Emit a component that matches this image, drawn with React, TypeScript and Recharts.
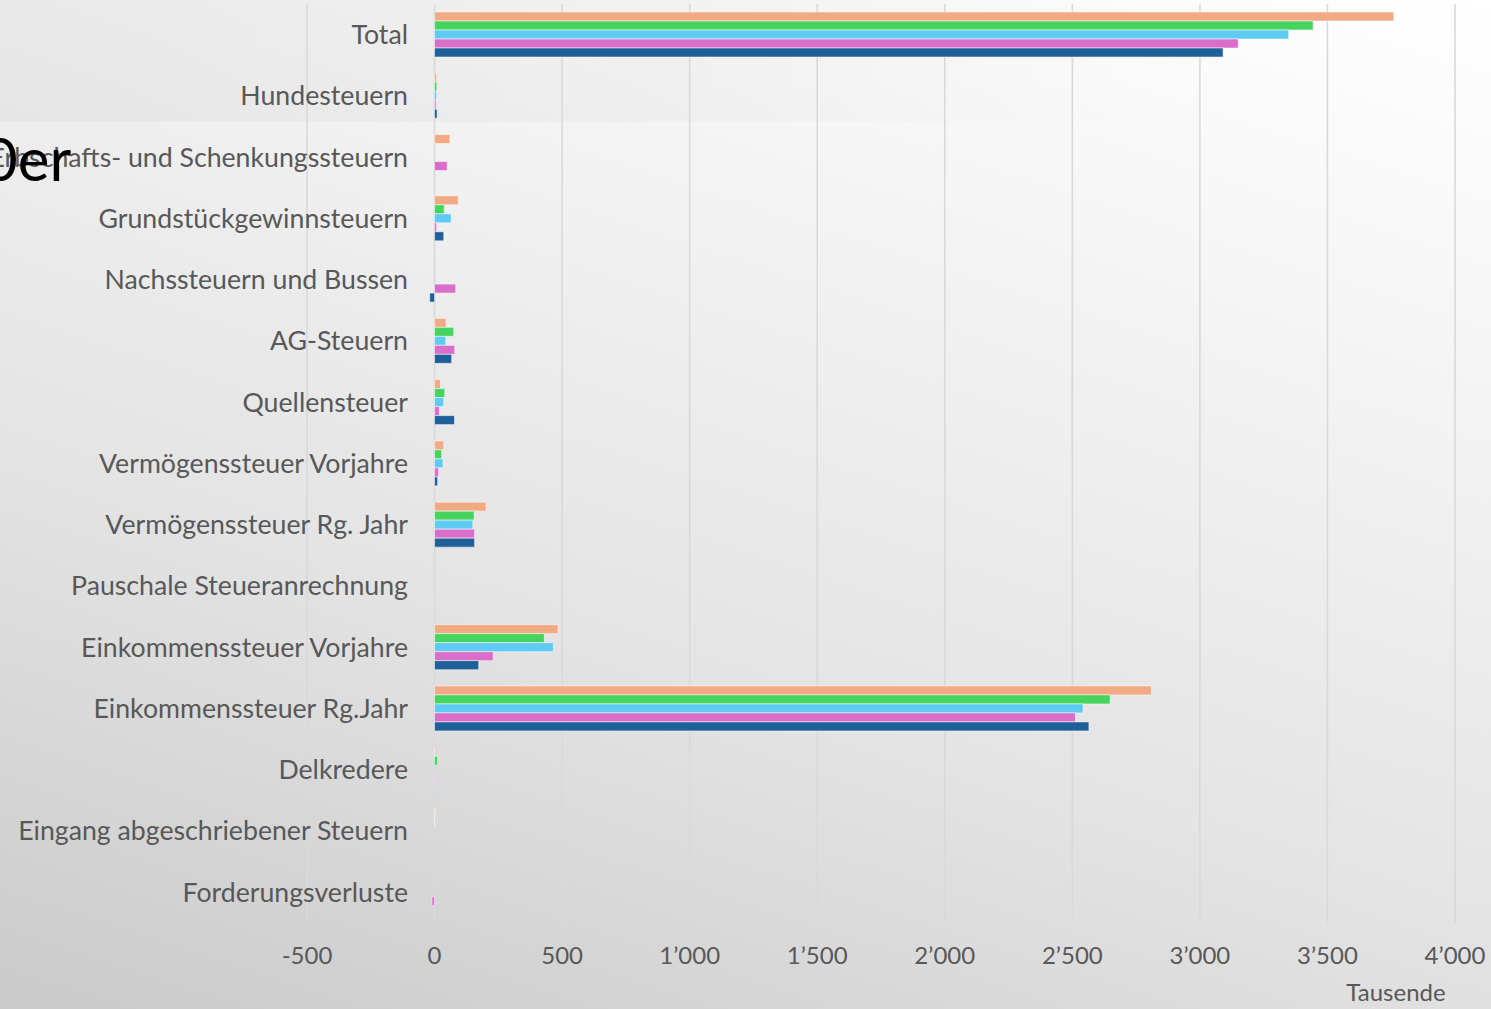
import React from 'react';
import { BarChart, Bar, XAxis, YAxis, CartesianGrid } from 'recharts';

const categories = [
  'Total',
  'Hundesteuern',
  'Erbschafts- und Schenkungssteuern',
  'Grundstückgewinnsteuern',
  'Nachssteuern und Bussen',
  'AG-Steuern',
  'Quellensteuer',
  'Vermögenssteuer Vorjahre',
  'Vermögenssteuer Rg. Jahr',
  'Pauschale Steueranrechnung',
  'Einkommenssteuer Vorjahre',
  'Einkommenssteuer Rg.Jahr',
  'Delkredere',
  'Eingang abgeschriebener Steuern',
  'Forderungsverluste',
];

const seriesA = [3760, 8, 60, 93, 0, 45, 23, 36, 202, 0, 484, 2810, -3, 2, 0];
const seriesB = [3444, 9, 0, 38, 0, 75, 40, 28, 155, 0, 430, 2648, 12, 1, 0];
const seriesC = [3348, 8, 0, 65, 0, 44, 36, 33, 150, 0, 466, 2542, 0, 0, 0];
const seriesD = [3150, 6, 50, 8, 83, 79, 19, 16, 157, 0, 230, 2512, -3, 0, -10];
const seriesE = [3091, 10, 2, 36, -19, 67, 78, 12, 157, 0, 173, 2565, 2, 0, 0];

const xTicks = [-500, 0, 500, 1000, 1500, 2000, 2500, 3000, 3500, 4000];

const seriesKeys = ['a', 'b', 'c', 'd', 'e'];
const seriesColors = ['#F2AA84', '#46D45E', '#5FCAF2', '#D96FCB', '#1F6098'];

const data = categories.map((name, i) => ({
  name,
  a: seriesA[i],
  b: seriesB[i],
  c: seriesC[i],
  d: seriesD[i],
  e: seriesE[i],
}));

const fmt = (v: number) => {
  const neg = v < 0;
  const s = Math.abs(v).toString().replace(/\B(?=(\d{3})+(?!\d))/g, '\u2019');
  return (neg ? '-' : '') + s;
};

const FONT = 'Lato, "Noto Sans", sans-serif';
const TEXT = '#585858';

const CategoryTick = (props: any) => {
  const { x, y, payload } = props;
  return (
    <text
      x={x + 101}
      y={y}
      dy="0.35em"
      textAnchor="end"
      fill={TEXT}
      fontSize={26.7}
      fontFamily={FONT}
    >
      {payload.value}
    </text>
  );
};

const AxisTitle = (props: any) => {
  const { viewBox } = props;
  return (
    <text
      x={viewBox.x + viewBox.width - 59}
      y={viewBox.y + 78}
      textAnchor="middle"
      fill={TEXT}
      fontSize={24}
      fontFamily={FONT}
    >
      Tausende
    </text>
  );
};

export default function App() {
  return (
    <div
      style={{
        position: 'absolute',
        left: 0,
        top: 0,
        width: 1491,
        height: 1009,
        overflow: 'hidden',
        background: 'linear-gradient(198deg, #ffffff 0%, #f6f6f6 22%, #e4e4e4 62%, #cacaca 100%)',
      }}
    >
      <div
        style={{
          position: 'absolute',
          left: 0,
          top: 0,
          width: 1150,
          height: 122,
          background: 'linear-gradient(to right, rgba(0,0,0,0.035) 0%, rgba(0,0,0,0.025) 60%, rgba(0,0,0,0.0) 100%)',
        }}
      />
      <BarChart
        width={1491}
        height={1009}
        data={data}
        layout="vertical"
        margin={{ top: 4, right: 36, bottom: 26, left: 0 }}
        barCategoryGap={8}
        barGap={0}
        style={{ position: 'absolute', left: 0, top: 0 }}
      >
        <CartesianGrid horizontal={false} vertical={true} stroke="#d9d9d9" strokeWidth={1.6} />
        <XAxis
          type="number"
          domain={[-500, 4000]}
          ticks={xTicks}
          tickFormatter={fmt}
          axisLine={false}
          tickLine={false}
          tickSize={0}
          tickMargin={24}
          height={60}
          tick={{ fill: TEXT, fontSize: 24, fontFamily: FONT }}
          label={<AxisTitle />}
          allowDataOverflow
        />
        <YAxis
          type="category"
          dataKey="name"
          width={307}
          axisLine={false}
          tickLine={false}
          tickSize={0}
          tickMargin={0}
          interval={0}
          tick={<CategoryTick />}
        />
        {seriesKeys.map((k, i) => (
          <Bar
            key={k}
            dataKey={k}
            fill={seriesColors[i]}
            stroke="#ffffff"
            strokeOpacity={0.5}
            strokeWidth={1}
            isAnimationActive={false}
          />
        ))}
      </BarChart>
      <div
        style={{
          position: 'absolute',
          left: -17,
          top: 118,
          fontFamily: FONT,
          fontSize: 60,
          color: '#000000',
          lineHeight: '80px',
          whiteSpace: 'nowrap',
          pointerEvents: 'none',
        }}
      >
        0er
      </div>
    </div>
  );
}
